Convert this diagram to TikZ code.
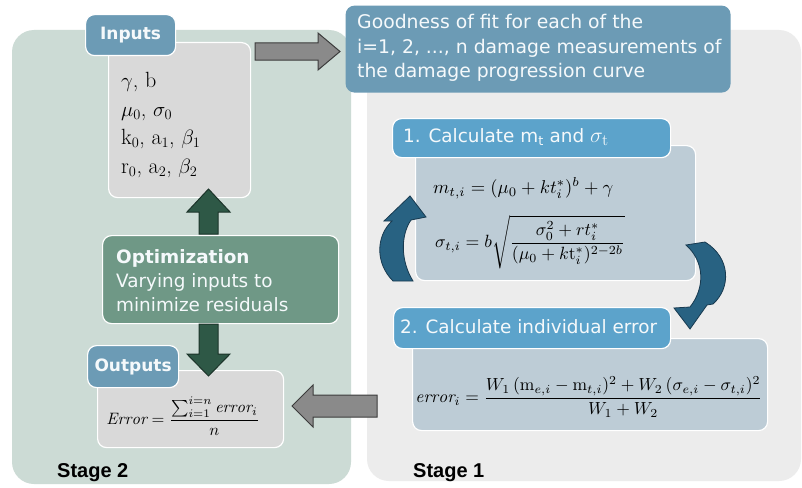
\documentclass[tikz,border=0pt]{standalone}
\usepackage{fontspec}
\usepackage{amsmath}
\usepackage{graphicx}
\setsansfont{DejaVu Sans}
\newfontfamily\stagefont{Liberation Sans}
\definecolor{stagegreen}{RGB}{204,219,213}
\definecolor{stagegray}{RGB}{236,236,236}
\definecolor{steel}{RGB}{108,155,181}
\definecolor{brightblue}{RGB}{92,163,203}
\definecolor{eqblue}{RGB}{189,204,214}
\definecolor{lightgray}{RGB}{217,217,217}
\definecolor{optgreen}{RGB}{111,152,134}
\definecolor{darkgreen}{RGB}{46,88,70}
\definecolor{darkgreenline}{RGB}{28,52,42}
\definecolor{arrowgray}{RGB}{138,138,138}
\definecolor{arrowgrayline}{RGB}{60,60,60}
\definecolor{curveblue}{RGB}{40,98,130}
\definecolor{curveline}{RGB}{24,58,80}
\definecolor{paletext}{RGB}{245,249,251}
\tikzset{
  stagebg/.style={rounded corners=22pt, draw=none},
  boxshape/.style={draw=white, line width=1.2pt, rounded corners=9pt, anchor=north west, inner sep=0pt},
  sanstext/.style={font=\sffamily\fontsize{18.4}{24}\selectfont, text=paletext},
  goodtext/.style={font=\sffamily\fontsize{18.8}{24}\selectfont, text=paletext},
  boldlabel/.style={font=\sffamily\bfseries\fontsize{17}{20}\selectfont, text=paletext},
  stagelabel/.style={font=\stagefont\bfseries\fontsize{20}{24}\selectfont, text=black, anchor=base west, inner sep=0pt},
  grayarrow/.style={fill=arrowgray, draw=arrowgrayline, line width=1pt, line join=miter},
  greenarrow/.style={fill=darkgreen, draw=darkgreenline, line width=1pt},
  curvearrow/.style={fill=curveblue, draw=curveline, line width=0.8pt}
}
\begin{document}
\begin{tikzpicture}[x=1pt,y=-1pt]
\useasboundingbox[fill=white] (0,0) rectangle (802,487);
% stage backgrounds
\fill[stagebg, fill=stagegreen] (12,30) rectangle (351,484);
\fill[stagebg, fill=stagegray] (367,30) rectangle (801,481);
% goodness box
\node[boxshape, draw=none, fill=steel, minimum width=385pt, minimum height=87pt] (good) at (345,5) {};
\node[anchor=base west, inner sep=0pt, align=left, goodtext] (goodtxt) at (357,77) {Goodness of fit for each of the\\ i=1, 2, ..., n damage measurements of\\ the damage progression curve};
% inputs
\node[boxshape, fill=lightgray, minimum width=142pt, minimum height=155pt] (inbox) at (108,42) {};
\node[boxshape, fill=steel, minimum width=90pt, minimum height=41pt] (inlabel) at (85,14) {};
\node[boldlabel] (inlabeltxt) at (inlabel.center) {Inputs};
\node[anchor=base west, inner sep=0pt, align=left, font=\fontsize{22}{28.5}\selectfont] (invals) at (121,173) {$\gamma$, b\\ $\mu_0$, $\sigma_0$\\ k$_0$, a$_1$, $\beta_1$\\ r$_0$, a$_2$, $\beta_2$};
% optimization
\node[boxshape, fill=optgreen, minimum width=236pt, minimum height=88pt] (opt) at (102,235) {};
\node[anchor=base west, inner sep=0pt, align=left, sanstext] (opttxt) at (116,311) {\textbf{Optimization}\\ Varying inputs to\\ minimize residuals};
% outputs
\node[boxshape, fill=lightgray, minimum width=186pt, minimum height=77pt] (outbox) at (97,370) {};
\node[boxshape, fill=steel, minimum width=91pt, minimum height=42pt] (outlabel) at (87,345) {};
\node[boldlabel] (outlabeltxt) at (outlabel.center) {Outputs};
\node[inner sep=0pt] (errout) at (183,416) {\resizebox{153pt}{!}{$\mathit{Error} = \dfrac{\sum_{i=1}^{i=n}\mathit{error}_i}{n}$}};
% stage 1 boxes
\node[boxshape, fill=eqblue, minimum width=280pt, minimum height=135pt] (eq1) at (415,145) {};
\node[boxshape, fill=brightblue, minimum width=278pt, minimum height=39pt] (calc1) at (392,118) {};
\node[anchor=west, inner sep=0pt, sanstext] (calc1txt) at (403,137) {1. Calculate m\textsubscript{t} and \scalebox{1.25}{$\sigma_{\mathrm{t}}$}};
\node[anchor=west, inner sep=0pt] (meq) at (433,188) {\resizebox{180pt}{!}{$m_{t,i} = (\mu_0 + kt_i^{*})^{b} + \gamma$}};
\node[anchor=west, inner sep=0pt] (seq) at (435,242) {\resizebox{190pt}{!}{$\sigma_{t,i} = b\sqrt{\dfrac{\sigma_0^2 + rt_i^{*}}{(\mu_0 + k\mathrm{t}_i^{*})^{2-2b}}}$}};
\node[boxshape, fill=eqblue, minimum width=355pt, minimum height=92pt] (eq2) at (412,338) {};
\node[boxshape, fill=brightblue, minimum width=277pt, minimum height=41pt] (calc2) at (393,307) {};
\node[anchor=west, inner sep=0pt, sanstext] (calc2txt) at (400,327) {2. Calculate individual error};
\node[inner sep=0pt] (erreq) at (589,397) {\resizebox{347pt}{!}{$\mathit{error}_i = \dfrac{W_1\,(\mathrm{m}_{e,i} - \mathrm{m}_{t,i})^2 + W_2\,(\sigma_{e,i} - \sigma_{t,i})^2}{W_1 + W_2}$}};
% stage labels
\node[stagelabel] (stage2) at (57,477) {Stage 2};
\node[stagelabel] (stage1) at (413,477) {Stage 1};
% gray arrows
\draw[grayarrow] (255,43) -- (318,43) -- (318,33) -- (340,51.5) -- (318,70) -- (318,60) -- (255,60) -- cycle;
\draw[grayarrow] (377,395) -- (313,395) -- (313,385) -- (292,406) -- (313,427) -- (313,417) -- (377,417) -- cycle;
% green arrows
\draw[greenarrow] (199,234) -- (199,212) -- (187,212) -- (208.5,189) -- (230,212) -- (218,212) -- (218,234) -- cycle;
\draw[greenarrow] (199,324) -- (218,324) -- (218,354) -- (230,354) -- (208.5,376) -- (187,354) -- (199,354) -- cycle;
% curved arrows
\draw[curvearrow] (393,281) .. controls (375,263) and (376,236) .. (392,221) -- (384,221) -- (410,196) -- (426,217) -- (411,220) .. controls (400,236) and (401,262) .. (413,281) -- cycle;
\draw[curvearrow] (686,245) -- (705,242) .. controls (731,258) and (731,288) .. (713,304) -- (707,305) -- (690,329) -- (674,308) -- (690,307) .. controls (705,288) and (705,262) .. (686,245) -- cycle;
\end{tikzpicture}
\end{document}
